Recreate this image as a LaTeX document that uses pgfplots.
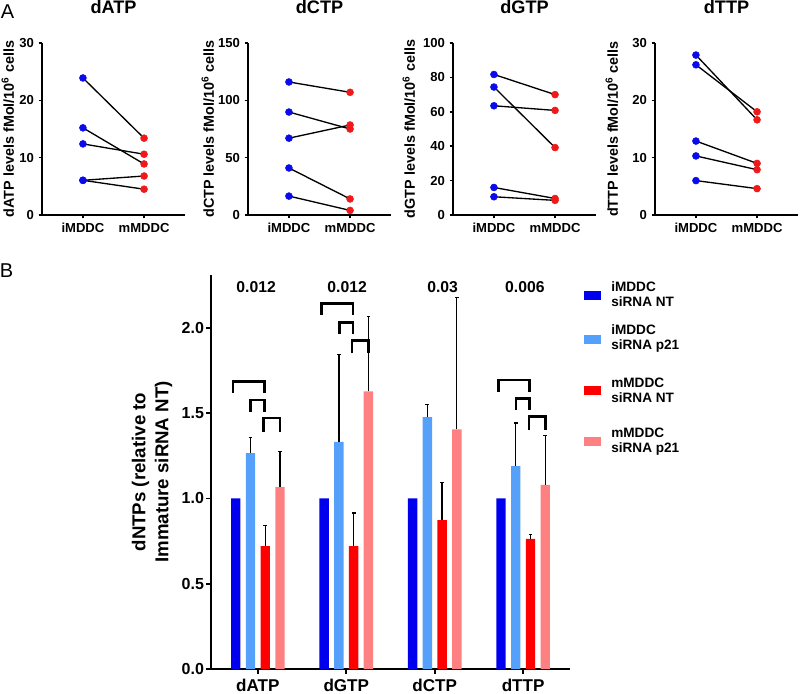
\documentclass[border=0pt]{standalone}
\usepackage{fontspec}
\setmainfont{Liberation Sans}
\usepackage{pgfplots}
\pgfplotsset{compat=1.18}
\definecolor{ptblue}{RGB}{10,10,235}
\definecolor{ptred}{RGB}{240,25,25}
\definecolor{bblue}{RGB}{0,0,238}
\definecolor{blight}{RGB}{85,160,250}
\definecolor{bred}{RGB}{255,0,0}
\definecolor{bpink}{RGB}{255,128,128}
\tikzset{
  legtext/.style={anchor=west, align=left, inner sep=0pt, font=\fontsize{10.2}{11.25}\selectfont\bfseries},
  pval/.style={font=\fontsize{11.8}{13}\selectfont\bfseries},
}
\pgfplotsset{
  toppanel/.style={
    scale only axis, width=107.25pt, height=129pt, anchor=south west,
    axis x line*=bottom, axis y line*=left,
    axis line style={line width=1.4pt, -},
    xmin=-0.67, xmax=1.67, ymin=0,
    xtick={0,1}, xticklabels={iMDDC,mMDDC},
    tick style={line width=1.2pt, black},
    major tick length=2.6pt, tick align=outside,
    ticklabel style={font=\fontsize{9.8}{11}\selectfont\bfseries},
    /pgf/number format/assume math mode=true,
    title style={font=\fontsize{13.6}{15}\selectfont\bfseries, at={(axis description cs:0.5,1)}, anchor=center, yshift=21pt},
    clip=false,
  },
  toplabel/.style={every axis y label/.style={at={(axis description cs:#1,0.5)}, rotate=90, anchor=center, font=\fontsize{10.8}{12}\selectfont\bfseries}},
  pairline/.style={black, line width=1pt, mark=none},
  ipts/.style={only marks, mark=*, mark size=2.6pt, ptblue},
  mpts/.style={only marks, mark=*, mark size=2.6pt, ptred},
  bracket/.style={black, line width=2pt, mark=none, sharp plot},
  mybar/.style={ybar, bar width=0.106, bar shift=0pt, draw=none, fill=#1},
  legkey/.style={#1, line width=6.75pt, mark=none, sharp plot, forget plot},
}
\begin{document}
\begin{tikzpicture}
\path[use as bounding box] (0,0) rectangle (600pt,519.75pt);
\node[font=\fontsize{15}{17}\selectfont] at (5.6pt,510.75pt) {A};
\node[font=\fontsize{15}{17}\selectfont] at (5pt,316.5pt) {B};

% dATP
\begin{axis}[toppanel, toplabel=-0.238, at={(31.5pt,358.5pt)}, ymax=30, ytick={0,10,20,30},
  title={dATP}, ylabel={dATP levels fMol/10\textsuperscript{6} cells}]
\addplot[pairline] coordinates {(0,23.9) (1,13.4)};
\addplot[pairline] coordinates {(0,15.2) (1,8.9)};
\addplot[pairline] coordinates {(0,12.4) (1,10.6)};
\addplot[pairline] coordinates {(0,6.05) (1,6.8)};
\addplot[pairline] coordinates {(0,6.05) (1,4.5)};
\addplot[ipts] coordinates {(0,23.9) (0,15.2) (0,12.4) (0,6.05) (0,6.05)};
\addplot[mpts] coordinates {(1,13.4) (1,10.6) (1,8.9) (1,6.8) (1,4.5)};
\end{axis}

% dCTP
\begin{axis}[toppanel, toplabel=-0.28, at={(186pt,358.5pt)}, ymax=150, ytick={0,50,100,150},
  title={dCTP}, ylabel={dCTP levels fMol/10\textsuperscript{6} cells}]
\addplot[pairline] coordinates {(0,116) (1,107)};
\addplot[pairline] coordinates {(0,89.8) (1,75)};
\addplot[pairline] coordinates {(0,67) (1,78.5)};
\addplot[pairline] coordinates {(0,41) (1,14)};
\addplot[pairline] coordinates {(0,16.5) (1,4)};
\addplot[ipts] coordinates {(0,116) (0,89.8) (0,67) (0,41) (0,16.5)};
\addplot[mpts] coordinates {(1,107) (1,78.5) (1,75) (1,14) (1,4)};
\end{axis}

% dGTP
\begin{axis}[toppanel, toplabel=-0.308, at={(339.75pt,358.5pt)}, ymax=100, ytick={0,20,40,60,80,100},
  title={dGTP}, ylabel={dGTP levels fMol/10\textsuperscript{6} cells}]
\addplot[pairline] coordinates {(0,81.7) (1,70)};
\addplot[pairline] coordinates {(0,74.4) (1,39.2)};
\addplot[pairline] coordinates {(0,63.5) (1,60.8)};
\addplot[pairline] coordinates {(0,16) (1,9.6)};
\addplot[pairline] coordinates {(0,10.6) (1,8.5)};
\addplot[ipts] coordinates {(0,81.7) (0,74.4) (0,63.5) (0,16) (0,10.6)};
\addplot[mpts] coordinates {(1,70) (1,60.8) (1,39.2) (1,9.6) (1,8.5)};
\end{axis}

% dTTP
\begin{axis}[toppanel, toplabel=-0.301, at={(491.25pt,358.5pt)}, ymax=30, ytick={0,10,20,30},
  title={dTTP}, ylabel={dTTP levels fMol/10\textsuperscript{6} cells}]
\addplot[pairline] coordinates {(0,27.9) (1,16.6)};
\addplot[pairline] coordinates {(0,26.2) (1,18.0)};
\addplot[pairline] coordinates {(0,12.9) (1,9.0)};
\addplot[pairline] coordinates {(0,10.3) (1,7.9)};
\addplot[pairline] coordinates {(0,6.0) (1,4.6)};
\addplot[ipts] coordinates {(0,27.9) (0,26.2) (0,12.9) (0,10.3) (0,6.0)};
\addplot[mpts] coordinates {(1,18.0) (1,16.6) (1,9.0) (1,7.9) (1,4.6)};
\end{axis}

% Panel B
\begin{axis}[
  at={(158.25pt,18pt)}, anchor=south west,
  scale only axis, width=269.25pt, height=295.5pt,
  axis x line*=bottom, axis y line*=left,
  axis line style={line width=1.5pt,-},
  xmin=-0.53, xmax=3.53, ymin=0, ymax=2.31,
  xtick={0,1,2,3}, xticklabels={dATP,dGTP,dCTP,dTTP},
  ytick={0,0.5,1,1.5,2},
  tick style={line width=1.3pt, black}, major tick length=3.75pt, tick align=outside,
  xticklabel style={font=\fontsize{12.8}{14}\selectfont\bfseries},
  yticklabel style={font=\fontsize{12}{13}\selectfont\bfseries, xshift=2pt},
  /pgf/number format/.cd, fixed, fixed zerofill, precision=1, assume math mode=true,
  /pgfplots/.cd,
  every axis y label/.style={at={(axis description cs:-0.1643,0.5)}, rotate=90, anchor=center, align=center, font=\fontsize{14}{17.25}\selectfont\bfseries},
  ylabel={dNTPs (relative to\\Immature siRNA NT)},
  clip=false,
  error bars/error bar style={draw=black, line width=1pt},
  error bars/error mark options={rotate=90, draw=black, mark size=1.4pt, line width=1pt},
]
\addplot[mybar=bblue] coordinates {(-0.25,1) (0.75,1) (1.75,1) (2.75,1)};
\addplot[mybar=blight, error bars/.cd, y dir=plus, y explicit]
  coordinates {(-0.0833,1.266) +- (0,0.09) (0.9167,1.331) +- (0,0.512) (1.9167,1.477) +- (0,0.075) (2.9167,1.19) +- (0,0.252)};
\addplot[mybar=bred, error bars/.cd, y dir=plus, y explicit]
  coordinates {(0.0833,0.72) +- (0,0.12) (1.0833,0.72) +- (0,0.194) (2.0833,0.873) +- (0,0.221) (3.0833,0.763) +- (0,0.026)};
\addplot[mybar=bpink, error bars/.cd, y dir=plus, y explicit]
  coordinates {(0.25,1.067) +- (0,0.207) (1.25,1.628) +- (0,0.44) (2.25,1.405) +- (0,0.775) (3.25,1.08) +- (0,0.29)};
% brackets dATP
\addplot[bracket, forget plot] coordinates {(-0.28,1.618) (-0.28,1.684) (0.075,1.684) (0.075,1.618)};
\addplot[bracket, forget plot] coordinates {(-0.08,1.508) (-0.08,1.577) (0.075,1.577) (0.075,1.508)};
\addplot[bracket, forget plot] coordinates {(0.065,1.391) (0.065,1.471) (0.25,1.471) (0.25,1.391)};
% brackets dGTP
\addplot[bracket, forget plot] coordinates {(0.72,2.075) (0.72,2.144) (1.075,2.144) (1.075,2.075)};
\addplot[bracket, forget plot] coordinates {(0.92,1.964) (0.92,2.032) (1.075,2.032) (1.075,1.964)};
\addplot[bracket, forget plot] coordinates {(1.065,1.85) (1.065,1.925) (1.25,1.925) (1.25,1.85)};
% brackets dTTP
\addplot[bracket, forget plot] coordinates {(2.72,1.625) (2.72,1.694) (3.075,1.694) (3.075,1.625)};
\addplot[bracket, forget plot] coordinates {(2.92,1.518) (2.92,1.587) (3.075,1.587) (3.075,1.518)};
\addplot[bracket, forget plot] coordinates {(3.065,1.40) (3.065,1.479) (3.25,1.479) (3.25,1.40)};
% legend keys and labels
\addplot[legkey=bblue]  coordinates {(3.688,2.192) (3.881,2.192)};
\addplot[legkey=blight] coordinates {(3.688,1.934) (3.881,1.934)};
\addplot[legkey=bred]   coordinates {(3.688,1.630) (3.881,1.630)};
\addplot[legkey=bpink]  coordinates {(3.688,1.331) (3.881,1.331)};
\node[legtext] at (axis cs:3.994,2.195) {iMDDC\\siRNA NT};
\node[legtext] at (axis cs:3.994,1.937) {iMDDC\\siRNA p21};
\node[legtext] at (axis cs:3.994,1.633) {mMDDC\\siRNA NT};
\node[legtext] at (axis cs:3.994,1.334) {mMDDC\\siRNA p21};
\node[pval] at (axis cs:-0.02,2.24) {0.012};
\node[pval] at (axis cs:1.01,2.24) {0.012};
\node[pval] at (axis cs:2.09,2.24) {0.03};
\node[pval] at (axis cs:3.02,2.24) {0.006};
\end{axis}
\end{tikzpicture}
\end{document}
